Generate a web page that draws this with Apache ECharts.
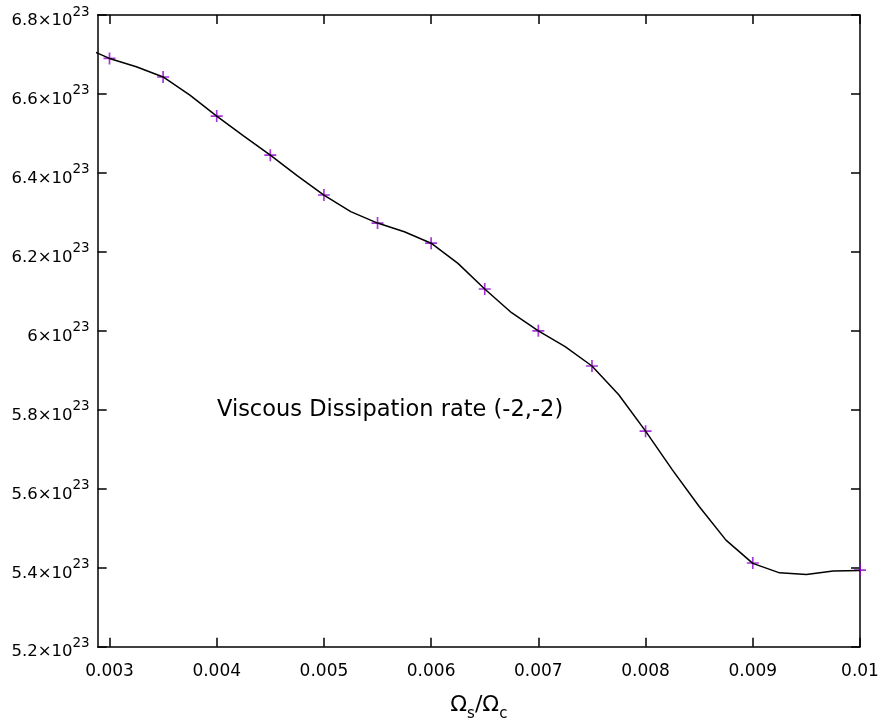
<!DOCTYPE html>
<html>
<head>
<meta charset="utf-8">
<script src="https://cdn.jsdelivr.net/npm/echarts@6/dist/echarts.min.js"></script>
<style>html,body{margin:0;padding:0;background:#fff}#c{width:882px;height:727px}</style>
</head>
<body>
<div id="c"></div>
<script>
// Values in units of 1e23
const lineX = [0.00275,0.003,0.00325,0.0035,0.00375,0.004,0.00425,0.0045,0.00475,0.005,0.00525,0.0055,0.00575,0.006,0.00625,0.0065,0.00675,0.007,0.00725,0.0075,0.00775,0.008,0.00825,0.0085,0.00875,0.009,0.00925,0.0095,0.00975,0.01];
const lineY = [6.720,6.690,6.669,6.643,6.597,6.544,6.494,6.445,6.393,6.344,6.302,6.273,6.251,6.222,6.171,6.106,6.046,6.000,5.960,5.911,5.838,5.746,5.648,5.555,5.470,5.411,5.387,5.383,5.392,5.393];
const pointX = [0.003,0.0035,0.004,0.0045,0.005,0.0055,0.006,0.0065,0.007,0.0075,0.008,0.009,0.01];
const pointY = [6.690,6.643,6.544,6.445,6.344,6.273,6.222,6.106,6.000,5.911,5.746,5.412,5.394];
const xTicks = [0.003,0.004,0.005,0.006,0.007,0.008,0.009,0.01];
const yTicks = [5.2,5.4,5.6,5.8,6.0,6.2,6.4,6.6,6.8];
const annotation = 'Viscous Dissipation rate (-2,-2)';

const FONT = 'DejaVu Sans';
const chart = echarts.init(document.getElementById('c'), null, {renderer:'canvas'});
const axisLineStyle = {color:'#000', width:1.5};
const tickStyle = {color:'#000', width:1.5};
function xAxisDef(pos, showLabel) {
  return {
    type:'value', min:0.00289, max:0.01, position:pos,
    axisLine:{show:true, onZero:false, lineStyle:axisLineStyle},
    axisTick:{show:true, inside:true, length:9, customValues:xTicks, lineStyle:tickStyle},
    axisLabel:{show:showLabel, customValues:xTicks, margin:16, fontSize:17, fontFamily:FONT, color:'#000',
      formatter: v => String(Number(v.toFixed(4)))},
    splitLine:{show:false}
  };
}
function yAxisDef(pos, showLabel) {
  return {
    type:'value', min:5.2, max:6.8, position:pos,
    axisLine:{show:true, onZero:false, lineStyle:axisLineStyle},
    axisTick:{show:true, inside:true, length:9, customValues:yTicks, lineStyle:tickStyle},
    axisLabel:{show:showLabel, customValues:yTicks, margin:8, color:'#000', fontFamily:FONT,
      formatter: v => '{a|' + String(Number(v.toFixed(1))) + '×10}{b|23}',
      rich:{
        a:{fontSize:16.5, fontFamily:FONT, color:'#000', verticalAlign:'bottom', padding:[0,0,-4,0]},
        b:{fontSize:13.5, fontFamily:FONT, color:'#000', verticalAlign:'bottom', padding:[0,0,6,0]}
      }},
    splitLine:{show:false}
  };
}
const xa = [xAxisDef('bottom', true), xAxisDef('top', false)];
xa[0].name = '{o|Ω}{s|s}{o|/Ω}{s|c}';
xa[0].nameLocation = 'middle';
xa[0].nameGap = 48;
xa[0].nameTextStyle = {
  rich:{
    o:{fontSize:22, fontFamily:FONT, color:'#000', verticalAlign:'bottom'},
    s:{fontSize:15, fontFamily:FONT, color:'#000', verticalAlign:'bottom', padding:[0,0,-5,0]}
  }
};
const plus = 'path://M4.3,0h1.4v4.3h4.3v1.4h-4.3v4.3h-1.4v-4.3h-4.3v-1.4h4.3z';
chart.setOption({
  animation:false,
  backgroundColor:'#fff',
  grid:{left:97.7, right:22, top:15, bottom:80.3, containLabel:false},
  xAxis: xa,
  yAxis: [yAxisDef('left', true), yAxisDef('right', false)],
  series:[
    {type:'scatter', xAxisIndex:0, yAxisIndex:0, symbol:plus, symbolSize:12,
     itemStyle:{color:'#9400d3'}, clip:true, z:2,
     data: pointX.map((x,i)=>[x, pointY[i]])},
    {type:'line', xAxisIndex:0, yAxisIndex:0, showSymbol:false, symbol:'none', clip:true, z:3,
     lineStyle:{color:'#000', width:1.5}, data: lineX.map((x,i)=>[x, lineY[i]])}
  ],
  graphic:[{type:'text', left:217, top:399, style:{text:annotation, font:'22.5px "DejaVu Sans"', fill:'#000'}}]
});
</script>
</body>
</html>
